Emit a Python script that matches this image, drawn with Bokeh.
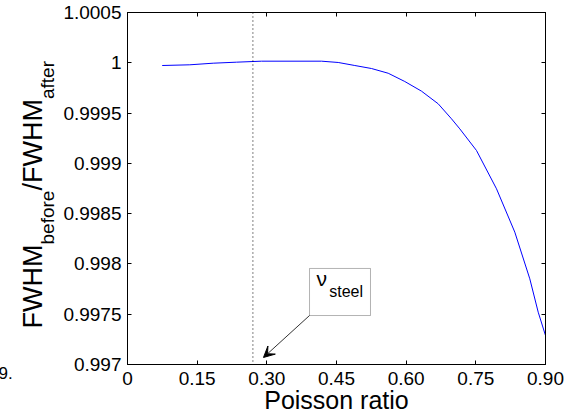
import math
from bokeh.plotting import figure
from bokeh.layouts import row
from bokeh.models import (Range1d, FixedTicker, LinearAxis, Label, Arrow, VeeHead,
                          BoxAnnotation, Span, Title, CustomLabelingPolicy)
from bokeh.core.properties import value
from bokeh.embed import file_html
from bokeh.resources import INLINE

# ---- data ----
poisson = [0.0747, 0.1341, 0.1845, 0.2347, 0.2885, 0.4177, 0.4537, 0.4894, 0.5254,
           0.5613, 0.5970, 0.6330, 0.6690, 0.6976, 0.7155, 0.7514, 0.7945, 0.8339,
           0.8662, 0.8843, 0.9000]
fwhm_ratio = [0.999973, 0.999980, 0.999996, 1.000006, 1.000016, 1.000016, 1.000003,
              0.999973, 0.999943, 0.999896, 0.999814, 0.999718, 0.999592, 0.999443,
              0.999343, 0.999128, 0.998747, 0.998316, 0.997852, 0.997520, 0.997288]
nu_steel = 0.27

x_ticks = [0, 0.15, 0.30, 0.45, 0.60, 0.75, 0.90]
x_tick_labels = ["0", "0.15", "0.30", "0.45", "0.60", "0.75", "0.90"]
y_ticks = [0.997, 0.9975, 0.998, 0.9985, 0.999, 0.9995, 1.0, 1.0005]
y_tick_labels = ["0.997", "0.9975", "0.998", "0.9985", "0.999", "0.9995", "1", "1.0005"]

FONT = "Liberation Sans"
LEFT_W = 60
FRAME_TOP, FRAME_BOTTOM = 12, 364   # canvas rows of the plot frame

# ---------------- main plot ----------------
p = figure(frame_width=418, frame_height=FRAME_BOTTOM - FRAME_TOP, output_backend="svg",
           toolbar_location=None, x_range=Range1d(0, 0.9), y_range=Range1d(0.997, 1.0005),
           min_border_left=126 - LEFT_W, min_border_right=24, min_border_top=FRAME_TOP,
           min_border_bottom=419 - FRAME_BOTTOM)
p.xgrid.visible = False
p.ygrid.visible = False
p.outline_line_color = "black"
p.outline_line_width = 1
p.background_fill_color = "white"
p.border_fill_color = "white"

hide_labels = CustomLabelingPolicy(code="""
try { for (const i of Array.from(indices)) { indices.unset(i) } } catch (e) {}
return indices
""")


def style_axis(ax, ticks, labels, show_labels=True):
    ax.ticker = FixedTicker(ticks=ticks)
    ax.major_label_overrides = {t: l for t, l in zip(ticks, labels)}
    ax.minor_tick_line_color = None
    ax.major_tick_in = 4
    ax.major_tick_out = 0
    ax.axis_line_color = "black"
    ax.major_tick_line_color = "black"
    ax.major_label_text_font = FONT
    ax.major_label_text_color = "black"
    if show_labels:
        ax.major_label_text_font_size = "19px"
    else:
        ax.major_label_text_font_size = "0px"
        ax.major_label_standoff = 0
        ax.major_label_policy = hide_labels


style_axis(p.xaxis[0], x_ticks, x_tick_labels)
p.xaxis[0].major_label_standoff = 7
p.xaxis[0].axis_label = "Poisson ratio"
p.xaxis[0].axis_label_text_font = FONT
p.xaxis[0].axis_label_text_font_size = "25px"
p.xaxis[0].axis_label_text_font_style = "normal"
p.xaxis[0].axis_label_text_color = "black"
p.xaxis[0].axis_label_standoff = -2
style_axis(p.yaxis[0], y_ticks, y_tick_labels)
p.yaxis[0].major_label_standoff = 6

top_ax = LinearAxis()
style_axis(top_ax, x_ticks, x_tick_labels, show_labels=False)
p.add_layout(top_ax, "above")
right_ax = LinearAxis()
style_axis(right_ax, y_ticks, y_tick_labels, show_labels=False)
p.add_layout(right_ax, "right")

# curve
p.line(poisson, fwhm_ratio, line_color="#0000ff", line_width=1)

# dotted line at nu_steel
p.add_layout(Span(location=nu_steel, dimension="height", line_color="black",
                  line_dash="1 3", line_width=1))

# annotation box + arrow
p.add_layout(BoxAnnotation(left=0.3919, right=0.5232, bottom=0.997487, top=0.997955,
                           fill_alpha=0, line_color="black", line_width=1, level="overlay"))
p.add_layout(Arrow(end=VeeHead(size=11, fill_color="black", line_color="black"),
                   x_start=0.3919, y_start=0.997487, x_end=0.2928, y_end=0.99707,
                   line_color="#333333", line_width=1))
p.add_layout(Label(x=0.4069, y=0.997736, text="ν", text_font=FONT,
                   text_font_size="21px", text_color="black"))
p.add_layout(Label(x=0.4343, y=0.997643, text="steel", text_font=FONT,
                   text_font_size="16px", text_color="black"))

# ---------------- left strip holding the y-axis title ----------------
# its frame is aligned with the main frame (canvas rows 12..364); y = 364 - canvas row
q = figure(width=LEFT_W, height=419, output_backend="svg", toolbar_location=None,
           x_range=Range1d(0, LEFT_W), y_range=Range1d(0, FRAME_BOTTOM - FRAME_TOP),
           x_axis_location=None, y_axis_location=None,
           min_border=0, min_border_left=0, min_border_right=0,
           min_border_top=0, min_border_bottom=0)
q.xgrid.visible = False
q.ygrid.visible = False
q.outline_line_color = None
q.background_fill_color = "white"
q.border_fill_color = "white"

ang = math.pi / 2
# pieces of "FWHM_before/FWHM_after": text, anchor column, canvas row where the piece starts
main_text, main_col, main_row = ["FWHM", "/FWHM"], [32, 32], [328, 190]
sub_text, sub_col, sub_row = ["before", "after"], [47, 47], [244, 98.5]
q.text(x=main_col, y=[FRAME_BOTTOM - v for v in main_row], text=main_text,
       angle=ang, text_font=value(FONT), text_font_size=value("27px"),
       text_align="left", text_baseline="alphabetic", text_color="black")
q.text(x=sub_col, y=[FRAME_BOTTOM - v for v in sub_row], text=sub_text,
       angle=ang, text_font=value(FONT), text_font_size=value("19px"),
       text_align="left", text_baseline="alphabetic", text_color="black")

# stray fragment at the lower left of the original
q.add_layout(Title(text="9.", align="left", offset=-2, standoff=0, text_font=FONT,
                   text_font_size="17px", text_font_style="normal",
                   text_color="black"), "below")

layout = row(q, p, spacing=0)
open("out.html", "w").write(file_html(layout, INLINE))
